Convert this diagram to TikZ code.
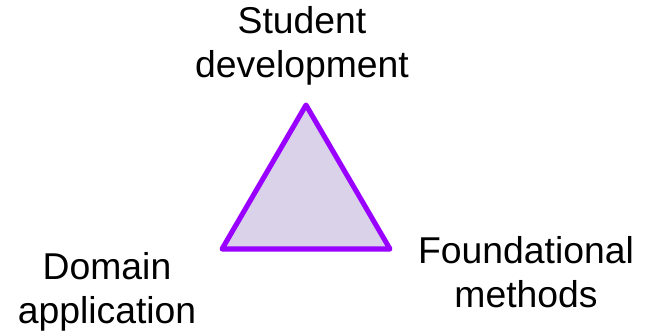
\documentclass[tikz,border=0pt]{standalone}
\usepackage{fontspec}
\setmainfont{Liberation Sans}
\definecolor{tristroke}{HTML}{9900FF}
\definecolor{trifill}{HTML}{D9D2E9}
\tikzset{
  lbl/.style={align=center, inner sep=0pt, anchor=base, font=\fontsize{28pt}{33pt}\selectfont},
  tri/.style={draw=tristroke, fill=trifill, line width=3.8pt, line join=round}
}
\begin{document}
\begin{tikzpicture}[x=0.75pt,y=-0.75pt]
\useasboundingbox (0,0) rectangle (650,333);
\coordinate (top) at (306,105);
\coordinate (bl) at (222,249);
\coordinate (br) at (390,249);
\draw[tri] (top) -- (bl) -- (br) -- cycle;
\node[lbl] (stud) at (302,77) {Student\\development};
\node[lbl] (dom) at (107,323) {Domain\\application};
\node[lbl] (found) at (526,307) {Foundational\\methods};
\end{tikzpicture}
\end{document}
